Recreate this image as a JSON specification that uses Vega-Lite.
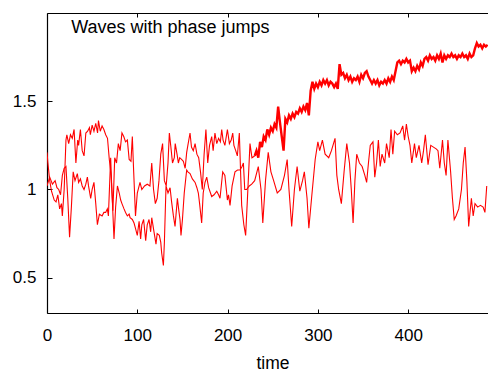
{
  "$schema": "https://vega.github.io/schema/vega-lite/v6.json",
  "width": 441,
  "height": 300,
  "autosize": {"type": "none"},
  "padding": {"left": 47, "top": 13, "right": 0, "bottom": 58},
  "background": "white",
  "config": {
    "view": {"stroke": null},
    "axis": {
      "grid": false,
      "domainColor": "black",
      "domainWidth": 1.2,
      "tickColor": "black",
      "labelFont": "Liberation Sans",
      "labelFontSize": 17,
      "labelColor": "black",
      "titleFont": "Liberation Sans",
      "titleFontWeight": "normal",
      "titleColor": "black"
    }
  },
  "datasets": {
    "waves": [
      {"t":0,"v":1.21,"s":"a"},{"t":1,"v":1.15,"s":"a"},{"t":3,"v":1.05,"s":"a"},{"t":5,"v":0.99,"s":"a"},{"t":8,"v":0.94,"s":"a"},{"t":10,"v":0.93,"s":"a"},{"t":12,"v":0.97,"s":"a"},{"t":14,"v":0.89,"s":"a"},{"t":16,"v":0.92,"s":"a"},{"t":17,"v":0.85,"s":"a"},{"t":19,"v":1.0,"s":"a"},{"t":21,"v":1.28,"s":"a"},{"t":22,"v":1.31,"s":"a"},{"t":24,"v":1.26,"s":"a"},{"t":26,"v":1.31,"s":"a"},{"t":28,"v":1.29,"s":"a"},{"t":30,"v":1.34,"s":"a"},{"t":32,"v":1.15,"s":"a"},{"t":34,"v":1.28,"s":"a"},{"t":35,"v":1.25,"s":"a"},{"t":37,"v":1.34,"s":"a"},{"t":39,"v":1.22,"s":"a"},{"t":41,"v":1.19,"s":"a"},{"t":43,"v":1.32,"s":"a"},{"t":45,"v":1.33,"s":"a"},{"t":47,"v":1.35,"s":"a"},{"t":48,"v":1.31,"s":"a"},{"t":50,"v":1.365,"s":"a"},{"t":52,"v":1.33,"s":"a"},{"t":54,"v":1.375,"s":"a"},{"t":56,"v":1.32,"s":"a"},{"t":57,"v":1.39,"s":"a"},{"t":59,"v":1.33,"s":"a"},{"t":61,"v":1.36,"s":"a"},{"t":63,"v":1.34,"s":"a"},{"t":65,"v":1.31,"s":"a"},{"t":67,"v":1.29,"s":"a"},{"t":69,"v":1.17,"s":"a"},{"t":71,"v":1.08,"s":"a"},{"t":73,"v":0.88,"s":"a"},{"t":75,"v":1.18,"s":"a"},{"t":77,"v":1.15,"s":"a"},{"t":79,"v":1.26,"s":"a"},{"t":81,"v":1.22,"s":"a"},{"t":83,"v":1.32,"s":"a"},{"t":85,"v":1.3,"s":"a"},{"t":87,"v":1.27,"s":"a"},{"t":89,"v":1.28,"s":"a"},{"t":91,"v":1.17,"s":"a"},{"t":93,"v":1.16,"s":"a"},{"t":94.5,"v":1.3,"s":"a"},{"t":96,"v":1.1,"s":"a"},{"t":98,"v":0.85,"s":"a"},{"t":100,"v":0.98,"s":"a"},{"t":103,"v":1.04,"s":"a"},{"t":105,"v":1.0,"s":"a"},{"t":108,"v":1.02,"s":"a"},{"t":111,"v":1.03,"s":"a"},{"t":114,"v":1.02,"s":"a"},{"t":116,"v":1.15,"s":"a"},{"t":118,"v":1.0,"s":"a"},{"t":120,"v":0.92,"s":"a"},{"t":122,"v":0.95,"s":"a"},{"t":124,"v":1.05,"s":"a"},{"t":126,"v":1.2,"s":"a"},{"t":128,"v":1.26,"s":"a"},{"t":130,"v":1.05,"s":"a"},{"t":132,"v":1.02,"s":"a"},{"t":134,"v":1.15,"s":"a"},{"t":135.5,"v":1.32,"s":"a"},{"t":137,"v":1.25,"s":"a"},{"t":139,"v":1.15,"s":"a"},{"t":141,"v":1.18,"s":"a"},{"t":142,"v":1.26,"s":"a"},{"t":144,"v":1.2,"s":"a"},{"t":145.5,"v":1.15,"s":"a"},{"t":147,"v":1.18,"s":"a"},{"t":149,"v":1.17,"s":"a"},{"t":151,"v":1.16,"s":"a"},{"t":153,"v":1.12,"s":"a"},{"t":154.7,"v":1.21,"s":"a"},{"t":156,"v":1.25,"s":"a"},{"t":158.4,"v":1.32,"s":"a"},{"t":160,"v":1.24,"s":"a"},{"t":162,"v":1.22,"s":"a"},{"t":164,"v":1.26,"s":"a"},{"t":166,"v":1.2,"s":"a"},{"t":168,"v":1.18,"s":"a"},{"t":170,"v":1.1,"s":"a"},{"t":172,"v":1.0,"s":"a"},{"t":174,"v":1.2,"s":"a"},{"t":176,"v":1.34,"s":"a"},{"t":178,"v":1.15,"s":"a"},{"t":180,"v":1.25,"s":"a"},{"t":182.4,"v":1.3,"s":"a"},{"t":184,"v":1.22,"s":"a"},{"t":186,"v":1.32,"s":"a"},{"t":188,"v":1.26,"s":"a"},{"t":190,"v":1.29,"s":"a"},{"t":192,"v":1.27,"s":"a"},{"t":193.5,"v":1.34,"s":"a"},{"t":195,"v":1.28,"s":"a"},{"t":197,"v":1.25,"s":"a"},{"t":199.8,"v":1.34,"s":"a"},{"t":202,"v":1.26,"s":"a"},{"t":204,"v":1.28,"s":"a"},{"t":205.7,"v":1.32,"s":"a"},{"t":207,"v":1.25,"s":"a"},{"t":209,"v":1.22,"s":"a"},{"t":210.8,"v":1.19,"s":"a"},{"t":213,"v":1.32,"s":"a"},{"t":215.6,"v":0.91,"s":"a"},{"t":218,"v":0.8,"s":"a"},{"t":220,"v":0.74,"s":"a"},{"t":222,"v":0.95,"s":"a"},{"t":224.8,"v":1.26,"s":"a"},{"t":227,"v":1.18,"s":"a"},{"t":230,"v":1.19,"s":"a"},

      {"t":0,"v":1.02,"s":"b"},{"t":3,"v":1.07,"s":"b"},{"t":6,"v":1.03,"s":"b"},{"t":9,"v":1.05,"s":"b"},{"t":11,"v":1.01,"s":"b"},{"t":13,"v":1.0,"s":"b"},{"t":15,"v":0.97,"s":"b"},{"t":17,"v":1.08,"s":"b"},{"t":19,"v":1.12,"s":"b"},{"t":21,"v":1.13,"s":"b"},{"t":23,"v":0.95,"s":"b"},{"t":25,"v":0.73,"s":"b"},{"t":27,"v":0.9,"s":"b"},{"t":29,"v":1.1,"s":"b"},{"t":31,"v":1.05,"s":"b"},{"t":33.6,"v":1.09,"s":"b"},{"t":35,"v":1.04,"s":"b"},{"t":37,"v":1.06,"s":"b"},{"t":39,"v":1.02,"s":"b"},{"t":41,"v":1.0,"s":"b"},{"t":43,"v":1.03,"s":"b"},{"t":44.7,"v":1.07,"s":"b"},{"t":46,"v":1.02,"s":"b"},{"t":48.4,"v":0.95,"s":"b"},{"t":50,"v":1.0,"s":"b"},{"t":52,"v":1.04,"s":"b"},{"t":54,"v":0.92,"s":"b"},{"t":55.8,"v":0.8,"s":"b"},{"t":58,"v":0.86,"s":"b"},{"t":61,"v":0.85,"s":"b"},{"t":63,"v":0.87,"s":"b"},{"t":65,"v":0.87,"s":"b"},{"t":66.8,"v":0.89,"s":"b"},{"t":68,"v":0.85,"s":"b"},{"t":70.5,"v":1.18,"s":"b"},{"t":72,"v":0.98,"s":"b"},{"t":74.2,"v":0.72,"s":"b"},{"t":76,"v":0.9,"s":"b"},{"t":78,"v":1.02,"s":"b"},{"t":80,"v":0.98,"s":"b"},{"t":81.6,"v":0.94,"s":"b"},{"t":83,"v":0.92,"s":"b"},{"t":85.3,"v":0.89,"s":"b"},{"t":87,"v":0.87,"s":"b"},{"t":89,"v":0.85,"s":"b"},{"t":91,"v":0.86,"s":"b"},{"t":92,"v":0.84,"s":"b"},{"t":94.5,"v":0.83,"s":"b"},{"t":96.4,"v":0.81,"s":"b"},{"t":98,"v":0.78,"s":"b"},{"t":100,"v":0.74,"s":"b"},{"t":102,"v":0.82,"s":"b"},{"t":103.7,"v":0.72,"s":"b"},{"t":105,"v":0.8,"s":"b"},{"t":107,"v":0.83,"s":"b"},{"t":109.3,"v":0.71,"s":"b"},{"t":111,"v":0.8,"s":"b"},{"t":113,"v":0.83,"s":"b"},{"t":114.8,"v":0.76,"s":"b"},{"t":116,"v":0.84,"s":"b"},{"t":118.5,"v":0.76,"s":"b"},{"t":120.7,"v":0.69,"s":"b"},{"t":122,"v":0.75,"s":"b"},{"t":124.4,"v":0.74,"s":"b"},{"t":126,"v":0.7,"s":"b"},{"t":127,"v":0.64,"s":"b"},{"t":128.9,"v":0.57,"s":"b"},{"t":130,"v":0.7,"s":"b"},{"t":131.8,"v":1.02,"s":"b"},{"t":134,"v":0.98,"s":"b"},{"t":136.3,"v":1.01,"s":"b"},{"t":138,"v":0.93,"s":"b"},{"t":140,"v":0.85,"s":"b"},{"t":141.8,"v":0.79,"s":"b"},{"t":144.4,"v":0.95,"s":"b"},{"t":146,"v":0.88,"s":"b"},{"t":147.3,"v":0.83,"s":"b"},{"t":148.4,"v":0.74,"s":"b"},{"t":150,"v":0.83,"s":"b"},{"t":152,"v":0.98,"s":"b"},{"t":154.7,"v":1.11,"s":"b"},{"t":156,"v":1.1,"s":"b"},{"t":158.4,"v":1.09,"s":"b"},{"t":161,"v":1.06,"s":"b"},{"t":164,"v":1.04,"s":"b"},{"t":166,"v":1.01,"s":"b"},{"t":167.6,"v":0.98,"s":"b"},{"t":169,"v":0.92,"s":"b"},{"t":171.3,"v":0.81,"s":"b"},{"t":173,"v":0.98,"s":"b"},{"t":175,"v":1.04,"s":"b"},{"t":176.9,"v":1.07,"s":"b"},{"t":179,"v":1.01,"s":"b"},{"t":182.4,"v":0.96,"s":"b"},{"t":185,"v":0.97,"s":"b"},{"t":188,"v":0.99,"s":"b"},{"t":190,"v":0.97,"s":"b"},{"t":191.6,"v":0.95,"s":"b"},{"t":193,"v":1.02,"s":"b"},{"t":194.6,"v":1.1,"s":"b"},{"t":197,"v":1.08,"s":"b"},{"t":199.8,"v":0.94,"s":"b"},{"t":201,"v":0.97,"s":"b"},{"t":202.7,"v":0.91,"s":"b"},{"t":205,"v":1.02,"s":"b"},{"t":208.2,"v":1.1,"s":"b"},{"t":211,"v":1.11,"s":"b"},{"t":213.8,"v":1.11,"s":"b"},{"t":216,"v":1.13,"s":"b"},{"t":217.5,"v":1.15,"s":"b"},{"t":219,"v":1.0,"s":"b"},{"t":221,"v":1.0,"s":"b"},{"t":224,"v":1.02,"s":"b"},{"t":226.7,"v":1.03,"s":"b"},{"t":230,"v":1.05,"s":"b"},{"t":234,"v":1.13,"s":"b"},{"t":237,"v":1.0,"s":"b"},{"t":239,"v":0.81,"s":"b"},{"t":242,"v":1.05,"s":"b"},{"t":245,"v":1.21,"s":"b"},{"t":248,"v":1.1,"s":"b"},{"t":251,"v":1.05,"s":"b"},{"t":255,"v":0.98,"s":"b"},{"t":259,"v":1.0,"s":"b"},{"t":263,"v":1.08,"s":"b"},{"t":266,"v":1.17,"s":"b"},{"t":268,"v":1.0,"s":"b"},{"t":271,"v":0.79,"s":"b"},{"t":274,"v":1.0,"s":"b"},{"t":277,"v":1.13,"s":"b"},{"t":280,"v":0.99,"s":"b"},{"t":283,"v":1.05,"s":"b"},{"t":285,"v":1.1,"s":"b"},{"t":288,"v":0.95,"s":"b"},{"t":290,"v":0.78,"s":"b"},{"t":293,"v":0.95,"s":"b"},{"t":297,"v":1.17,"s":"b"},{"t":300,"v":1.27,"s":"b"},{"t":302,"v":1.22,"s":"b"},{"t":305,"v":1.28,"s":"b"},{"t":308,"v":1.2,"s":"b"},{"t":312,"v":1.18,"s":"b"},{"t":315,"v":1.22,"s":"b"},{"t":319,"v":1.29,"s":"b"},{"t":321,"v":1.08,"s":"b"},{"t":323,"v":1.0,"s":"b"},{"t":326,"v":0.92,"s":"b"},{"t":329,"v":1.1,"s":"b"},{"t":332,"v":1.26,"s":"b"},{"t":335,"v":1.15,"s":"b"},{"t":337,"v":1.0,"s":"b"},{"t":339,"v":0.81,"s":"b"},{"t":341,"v":1.05,"s":"b"},{"t":343,"v":1.2,"s":"b"},{"t":346,"v":1.15,"s":"b"},{"t":349,"v":1.13,"s":"b"},{"t":352,"v":1.08,"s":"b"},{"t":354,"v":1.04,"s":"b"},{"t":356,"v":1.15,"s":"b"},{"t":358,"v":1.25,"s":"b"},{"t":361,"v":1.27,"s":"b"},{"t":363,"v":1.07,"s":"b"},{"t":365,"v":1.15,"s":"b"},{"t":367,"v":1.28,"s":"b"},{"t":369,"v":1.13,"s":"b"},{"t":371,"v":1.2,"s":"b"},{"t":374,"v":1.15,"s":"b"},{"t":376,"v":1.26,"s":"b"},{"t":379,"v":1.18,"s":"b"},{"t":381,"v":1.34,"s":"b"},{"t":383,"v":1.2,"s":"b"},{"t":385,"v":1.33,"s":"b"},{"t":388,"v":1.31,"s":"b"},{"t":391,"v":1.32,"s":"b"},{"t":394,"v":1.36,"s":"b"},{"t":396,"v":1.28,"s":"b"},{"t":398,"v":1.37,"s":"b"},{"t":400,"v":1.3,"s":"b"},{"t":402,"v":1.25,"s":"b"},{"t":404,"v":1.15,"s":"b"},{"t":407,"v":1.26,"s":"b"},{"t":409,"v":1.18,"s":"b"},{"t":412,"v":1.25,"s":"b"},{"t":415,"v":1.15,"s":"b"},{"t":417,"v":1.22,"s":"b"},{"t":419,"v":1.31,"s":"b"},{"t":422,"v":1.14,"s":"b"},{"t":425,"v":1.25,"s":"b"},{"t":428,"v":1.24,"s":"b"},{"t":431,"v":1.23,"s":"b"},{"t":433,"v":1.22,"s":"b"},{"t":435,"v":1.12,"s":"b"},{"t":438,"v":1.28,"s":"b"},{"t":440,"v":1.15,"s":"b"},{"t":442,"v":1.08,"s":"b"},{"t":444,"v":1.28,"s":"b"},{"t":447,"v":1.1,"s":"b"},{"t":449,"v":0.95,"s":"b"},{"t":451,"v":0.83,"s":"b"},{"t":453,"v":0.85,"s":"b"},{"t":456,"v":0.89,"s":"b"},{"t":459,"v":1.0,"s":"b"},{"t":461,"v":1.15,"s":"b"},{"t":463,"v":1.24,"s":"b"},{"t":465,"v":1.05,"s":"b"},{"t":467,"v":0.79,"s":"b"},{"t":470,"v":0.95,"s":"b"},{"t":472,"v":0.85,"s":"b"},{"t":474,"v":0.92,"s":"b"},{"t":477,"v":0.9,"s":"b"},{"t":480,"v":0.91,"s":"b"},{"t":483,"v":0.9,"s":"b"},{"t":485,"v":0.87,"s":"b"},{"t":487,"v":1.02,"s":"b"},

      {"t":230,"v":1.19,"s":"trend"},{"t":232,"v":1.22,"s":"trend"},{"t":234,"v":1.18,"s":"trend"},{"t":236,"v":1.27,"s":"trend"},{"t":238,"v":1.24,"s":"trend"},{"t":240,"v":1.3,"s":"trend"},{"t":242,"v":1.28,"s":"trend"},{"t":244,"v":1.34,"s":"trend"},{"t":246,"v":1.31,"s":"trend"},{"t":248,"v":1.35,"s":"trend"},{"t":250,"v":1.33,"s":"trend"},{"t":252,"v":1.37,"s":"trend"},{"t":254,"v":1.35,"s":"trend"},{"t":256,"v":1.47,"s":"trend"},{"t":258,"v":1.38,"s":"trend"},{"t":260,"v":1.3,"s":"trend"},{"t":262,"v":1.22,"s":"trend"},{"t":264,"v":1.4,"s":"trend"},{"t":266,"v":1.38,"s":"trend"},{"t":268,"v":1.42,"s":"trend"},{"t":270,"v":1.4,"s":"trend"},{"t":272,"v":1.43,"s":"trend"},{"t":274,"v":1.41,"s":"trend"},{"t":276,"v":1.44,"s":"trend"},{"t":278,"v":1.43,"s":"trend"},{"t":280,"v":1.46,"s":"trend"},{"t":282,"v":1.44,"s":"trend"},{"t":284,"v":1.47,"s":"trend"},{"t":286,"v":1.45,"s":"trend"},{"t":288,"v":1.49,"s":"trend"},{"t":290,"v":1.42,"s":"trend"},{"t":292,"v":1.56,"s":"trend"},{"t":294,"v":1.61,"s":"trend"},{"t":296,"v":1.57,"s":"trend"},{"t":298,"v":1.6,"s":"trend"},{"t":300,"v":1.58,"s":"trend"},{"t":302,"v":1.61,"s":"trend"},{"t":304,"v":1.59,"s":"trend"},{"t":306,"v":1.62,"s":"trend"},{"t":308,"v":1.6,"s":"trend"},{"t":310,"v":1.62,"s":"trend"},{"t":312,"v":1.59,"s":"trend"},{"t":314,"v":1.61,"s":"trend"},{"t":316,"v":1.6,"s":"trend"},{"t":318,"v":1.58,"s":"trend"},{"t":320,"v":1.6,"s":"trend"},{"t":322,"v":1.57,"s":"trend"},{"t":324,"v":1.71,"s":"trend"},{"t":326,"v":1.65,"s":"trend"},{"t":328,"v":1.66,"s":"trend"},{"t":330,"v":1.63,"s":"trend"},{"t":332,"v":1.65,"s":"trend"},{"t":334,"v":1.62,"s":"trend"},{"t":336,"v":1.64,"s":"trend"},{"t":338,"v":1.61,"s":"trend"},{"t":340,"v":1.63,"s":"trend"},{"t":342,"v":1.62,"s":"trend"},{"t":344,"v":1.64,"s":"trend"},{"t":346,"v":1.61,"s":"trend"},{"t":348,"v":1.65,"s":"trend"},{"t":350,"v":1.63,"s":"trend"},{"t":352,"v":1.66,"s":"trend"},{"t":354,"v":1.67,"s":"trend"},{"t":356,"v":1.64,"s":"trend"},{"t":358,"v":1.62,"s":"trend"},{"t":360,"v":1.6,"s":"trend"},{"t":362,"v":1.62,"s":"trend"},{"t":364,"v":1.6,"s":"trend"},{"t":366,"v":1.62,"s":"trend"},{"t":368,"v":1.59,"s":"trend"},{"t":370,"v":1.61,"s":"trend"},{"t":372,"v":1.6,"s":"trend"},{"t":374,"v":1.62,"s":"trend"},{"t":376,"v":1.6,"s":"trend"},{"t":378,"v":1.63,"s":"trend"},{"t":380,"v":1.61,"s":"trend"},{"t":382,"v":1.64,"s":"trend"},{"t":384,"v":1.62,"s":"trend"},{"t":386,"v":1.67,"s":"trend"},{"t":388,"v":1.72,"s":"trend"},{"t":390,"v":1.73,"s":"trend"},{"t":392,"v":1.71,"s":"trend"},{"t":394,"v":1.73,"s":"trend"},{"t":396,"v":1.72,"s":"trend"},{"t":398,"v":1.74,"s":"trend"},{"t":400,"v":1.72,"s":"trend"},{"t":402,"v":1.73,"s":"trend"},{"t":404,"v":1.67,"s":"trend"},{"t":406,"v":1.69,"s":"trend"},{"t":408,"v":1.67,"s":"trend"},{"t":410,"v":1.7,"s":"trend"},{"t":412,"v":1.68,"s":"trend"},{"t":414,"v":1.72,"s":"trend"},{"t":416,"v":1.7,"s":"trend"},{"t":418,"v":1.74,"s":"trend"},{"t":420,"v":1.75,"s":"trend"},{"t":422,"v":1.73,"s":"trend"},{"t":424,"v":1.76,"s":"trend"},{"t":426,"v":1.74,"s":"trend"},{"t":428,"v":1.75,"s":"trend"},{"t":430,"v":1.73,"s":"trend"},{"t":432,"v":1.76,"s":"trend"},{"t":434,"v":1.74,"s":"trend"},{"t":436,"v":1.77,"s":"trend"},{"t":438,"v":1.72,"s":"trend"},{"t":440,"v":1.76,"s":"trend"},{"t":442,"v":1.74,"s":"trend"},{"t":444,"v":1.76,"s":"trend"},{"t":446,"v":1.75,"s":"trend"},{"t":448,"v":1.77,"s":"trend"},{"t":450,"v":1.75,"s":"trend"},{"t":452,"v":1.76,"s":"trend"},{"t":454,"v":1.74,"s":"trend"},{"t":456,"v":1.76,"s":"trend"},{"t":458,"v":1.75,"s":"trend"},{"t":460,"v":1.77,"s":"trend"},{"t":462,"v":1.75,"s":"trend"},{"t":464,"v":1.76,"s":"trend"},{"t":466,"v":1.74,"s":"trend"},{"t":468,"v":1.77,"s":"trend"},{"t":470,"v":1.75,"s":"trend"},{"t":472,"v":1.76,"s":"trend"},{"t":474,"v":1.8,"s":"trend"},{"t":476,"v":1.83,"s":"trend"},{"t":478,"v":1.81,"s":"trend"},{"t":480,"v":1.82,"s":"trend"},{"t":482,"v":1.8,"s":"trend"},{"t":484,"v":1.82,"s":"trend"},{"t":486,"v":1.81,"s":"trend"},{"t":488,"v":1.82,"s":"trend"}
    ]
  },
  "data": {"name": "waves"},
  "layer": [
    {
      "transform": [{"filter": "datum.s !== 'trend'"}],
      "mark": {"type": "line", "color": "#ff0000", "strokeWidth": 1.1, "clip": true},
      "encoding": {
        "x": {
          "field": "t", "type": "quantitative",
          "scale": {"domain": [0, 488.4], "nice": false, "zero": false},
          "axis": {
            "orient": "bottom",
            "values": [0, 100, 200, 300, 400],
            "format": "d",
            "tickSize": -4,
            "labelPadding": 18,
            "labelFlush": false,
            "labelOverlap": false,
            "title": "time",
            "titleFontSize": 17.5,
            "titleX": 225.5,
            "titleY": 55,
            "titleAlign": "center",
            "titleBaseline": "alphabetic"
          }
        },
        "y": {
          "field": "v", "type": "quantitative",
          "scale": {"domain": [0.3, 2.0], "nice": false, "zero": false},
          "axis": {
            "orient": "left",
            "values": [0.5, 1, 1.5],
            "format": "~g",
            "tickSize": -5,
            "labelPadding": 16,
            "title": null
          }
        },
        "detail": {"field": "s", "type": "nominal"}
      }
    },
    {
      "transform": [{"filter": "datum.s === 'trend'"}],
      "mark": {"type": "line", "color": "#ff0000", "strokeWidth": 2.4, "clip": true},
      "encoding": {
        "x": {
          "field": "t", "type": "quantitative",
          "axis": {
            "orient": "top",
            "values": [0, 100, 200, 300, 400],
            "tickSize": -4,
            "labels": false,
            "title": "Waves with phase jumps",
            "titleFontSize": 18,
            "titleX": 23.7,
            "titleY": 19.5,
            "titleAlign": "left",
            "titleBaseline": "alphabetic"
          }
        },
        "y": {"field": "v", "type": "quantitative", "axis": null}
      }
    }
  ],
  "resolve": {"axis": {"x": "independent", "y": "independent"}}
}
